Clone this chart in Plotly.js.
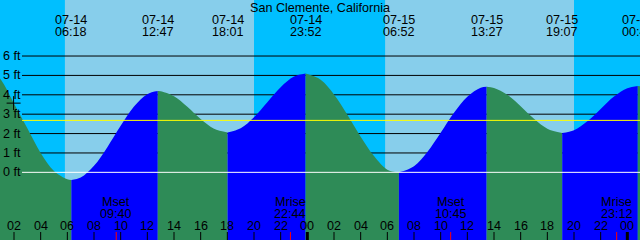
<!DOCTYPE html>
<html><head><meta charset="utf-8">
<script src="https://cdn.plot.ly/plotly-3.0.1.min.js"></script>
<style>html,body{margin:0;padding:0;background:#fff}</style>
</head><body><div id="chart" style="width:640px;height:240px"></div>
<script>
// ---------- data ----------
const chartTitle = 'San Clemente, California';
// tide heights (ft), hours since 07-14 00:00
const tideHours = [0,1,2,3,4,5,6,7,8,9,10,11,12,13,14,15,16,17,19,20,21,22,23,25,26,27,28,29,30,32,33,34,35,36,37,38,39,40,41,42,44,45,46,47,48,49];
const tideFeet  = [5.55,4.80,3.55,2.27,1.00,0.07,-0.36,-0.27,0.34,1.30,2.40,3.39,4.03,4.18,3.92,3.38,2.75,2.25,2.27,2.84,3.62,4.39,4.94,4.78,4.02,2.97,1.84,0.84,0.14,0.32,1.05,2.04,3.07,3.90,4.36,4.35,4.00,3.41,2.76,2.25,2.17,2.63,3.27,3.91,4.34,4.44];
// high / low tides
const extremeDates = ['07-14','07-14','07-14','07-14','07-15','07-15','07-15','07-16'];
const extremeClock = ['06:18','12:47','18:01','23:52','06:52','13:27','19:07','00:47'];
const extremeFeet  = [-0.40, 4.19, 2.06, 5.10, 0.00, 4.41, 2.03, 4.45];
// sun
const sunDates   = ['07-14','07-15'];
const sunrise    = ['05:49','05:50'];
const sunset     = ['20:00','20:00'];
// moon
const moonEvents = ['Mset','Mrise','Mset','Mrise'];
const moonDates  = ['07-14','07-14','07-15','07-15'];
const moonClock  = ['09:40','22:44','10:45','23:12'];
// axes
const hourTicks  = [2,4,6,8,10,12,14,16,18,20,22,24,26,28,30,32,34,36,38,40,42,44,46,48];
const feetTicks  = [0,1,2,3,4,5,6];
const meanLevel  = 2.68;
const nowHour = 1.97, nowFeet = 3.57;

// ---------- helpers ----------
const dayIndex = {'07-14':0,'07-15':24,'07-16':48};
function toHours(d, c){ const p=c.split(':'); return dayIndex[d] + (+p[0]) + (+p[1])/60; }
const X0 = 0.95, X1 = 48.95, Y0 = -3.49, Y1 = 8.89;
const W = 640, H = 240;
const py = p => 1 - p/H;      // pixel row -> paper y
const px = p => p/W;          // pixel col -> paper x
const FONT = {family:'Liberation Sans, Arial, sans-serif', size:12.6, color:'#000'};
const NIGHT='#00BFFF', DAY='#87CEEB', FALL='#2E8B57', RISE='#0000FF';

// combine points
const pts = tideHours.map((h,i)=>({t:h, v:tideFeet[i]}));
const ext = extremeDates.map((d,i)=>({t:toHours(d, extremeClock[i]), v:extremeFeet[i]}));
ext.forEach(e=>pts.push(e));
pts.sort((a,b)=>a.t-b.t);
const bounds = [pts[0].t].concat(ext.map(e=>e.t)).concat([pts[pts.length-1].t]);

const traces = [];
for (let i=0;i<bounds.length-1;i++){
  const seg = pts.filter(p=>p.t>=bounds[i]-1e-9 && p.t<=bounds[i+1]+1e-9);
  if (seg.length<2) continue;
  const xs = seg.map(p=>p.t), ys = seg.map(p=>p.v);
  const falling = ys[ys.length-1] < ys[0];
  traces.push({x:xs, y:xs.map(()=>Y0-2), mode:'lines', line:{width:0}, hoverinfo:'skip', showlegend:false});
  traces.push({x:xs, y:ys, mode:'lines', line:{width:0, shape:'spline', smoothing:1}, fill:'tonexty',
               fillcolor: falling?FALL:RISE, hoverinfo:'skip', showlegend:false});
}
traces.push({x:[nowHour], y:[nowFeet], mode:'markers', marker:{symbol:'cross-thin', size:10, line:{width:1, color:'#000'}}, showlegend:false, hoverinfo:'skip'});

const shapes = [];
sunDates.forEach((d,i)=>{
  shapes.push({type:'rect', xref:'x', yref:'paper', x0:toHours(d,sunrise[i]), x1:toHours(d,sunset[i]), y0:0, y1:1, fillcolor:DAY, line:{width:0}, layer:'below'});
});
feetTicks.filter(f=>f>0).forEach(f=>{
  shapes.push({type:'line', xref:'paper', yref:'y', x0:px(22), x1:1, y0:f, y1:f, line:{color:'#000', width:1}, layer:'below'});
});
shapes.push({type:'line', xref:'paper', yref:'y', x0:px(22), x1:1, y0:0, y1:0, line:{color:'#fff', width:1}, layer:'above'});
shapes.push({type:'line', xref:'paper', yref:'y', x0:px(22), x1:1, y0:meanLevel, y1:meanLevel, line:{color:'#FFFF00', width:1}, layer:'above'});
hourTicks.forEach(t=>{
  const mid = t%24===0;
  shapes.push({type:'line', xref:'x', yref:'paper', x0:t, x1:t, y0:0, y1:8/H, line:{color:'#000', width: mid?3:1}, layer:'above'});
});
moonDates.forEach((d,i)=>{
  const t = toHours(d, moonClock[i]);
  shapes.push({type:'line', xref:'x', yref:'paper', x0:t, x1:t, y0:0, y1:8/H, line:{color:'#FF0000', width:1}, layer:'above'});
});

const ann = [];
feetTicks.forEach(f=>{
  ann.push({xref:'paper', yref:'y', x:px(1), y:f, xanchor:'left', yanchor:'middle', text:f+' ft', showarrow:false, font:FONT});
});
hourTicks.forEach(t=>{
  ann.push({xref:'x', yref:'paper', x:t, y:py(226), xanchor:'center', yanchor:'middle', text:String(t%24).padStart(2,'0'), showarrow:false, font:FONT});
});
extremeDates.forEach((d,i)=>{
  const t = toHours(d, extremeClock[i]);
  ann.push({xref:'x', yref:'paper', x:t, y:py(19.5), xanchor:'center', yanchor:'middle', text:d, showarrow:false, font:FONT});
  ann.push({xref:'x', yref:'paper', x:t, y:py(32), xanchor:'center', yanchor:'middle', text:extremeClock[i], showarrow:false, font:FONT});
});
moonDates.forEach((d,i)=>{
  const t = toHours(d, moonClock[i]);
  ann.push({xref:'x', yref:'paper', x:t, y:py(201.5), xanchor:'center', yanchor:'middle', text:moonEvents[i], showarrow:false, font:FONT});
  ann.push({xref:'x', yref:'paper', x:t, y:py(213.5), xanchor:'center', yanchor:'middle', text:moonClock[i], showarrow:false, font:FONT});
});

const layout = {
  width:W, height:H, margin:{l:0,r:0,t:0,b:0}, paper_bgcolor:NIGHT, plot_bgcolor:NIGHT,
  title:{text:chartTitle, font:FONT, x:0.5, xanchor:'center', xref:'paper', y:py(7.5), yref:'container', yanchor:'middle'},
  xaxis:{range:[X0,X1], showgrid:false, zeroline:false, showticklabels:false, ticks:'', fixedrange:true},
  yaxis:{range:[Y0,Y1], showgrid:false, zeroline:false, showticklabels:false, ticks:'', fixedrange:true},
  shapes:shapes, annotations:ann, showlegend:false
};
Plotly.newPlot('chart', traces, layout, {staticPlot:true, displayModeBar:false});
</script></body></html>
